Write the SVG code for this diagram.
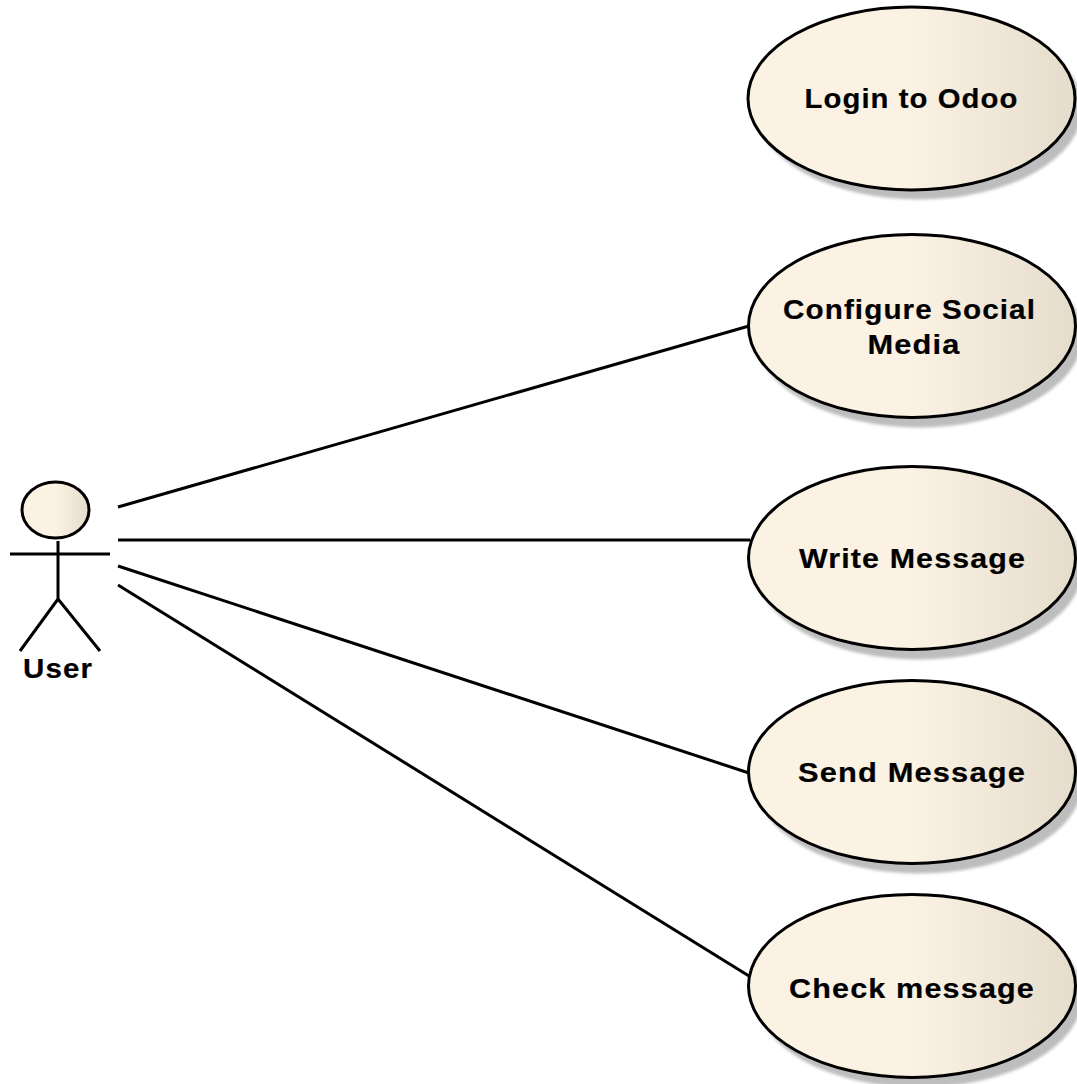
<svg xmlns="http://www.w3.org/2000/svg" width="1077" height="1084" viewBox="0 0 1077 1084">
<style>
.uc{fill:url(#g);stroke:#000;stroke-width:3}
.sh{fill:#bdbdbd;filter:url(#b)}
.t{font-family:"Liberation Sans",Arial,sans-serif;font-weight:700;font-size:27px;letter-spacing:1px;fill:#000;stroke:#000;stroke-width:.2}
.c{fill:none;stroke:#000;stroke-width:3}
</style>
<defs>
<linearGradient id="g" x1="0" x2="1" y1="0" y2="0"><stop offset="0" stop-color="#fbf2e4"/><stop offset="0.5" stop-color="#fbf2e4"/><stop offset="1" stop-color="#e6dccc"/></linearGradient>
<filter id="b" x="-5%" y="-5%" width="110%" height="110%"><feGaussianBlur stdDeviation="1.5"/></filter>
</defs>
<rect width="1077" height="1084" fill="#fff"/>
<g id="connectors" class="c">
<line x1="118" y1="507" x2="749" y2="326"/>
<line x1="118" y1="540" x2="750" y2="540"/>
<line x1="118" y1="566" x2="749" y2="773"/>
<line x1="118" y1="585" x2="749" y2="976"/>
</g>
<g id="login"><ellipse class="sh" cx="919" cy="108" rx="163.5" ry="91.5"/><ellipse class="uc" cx="911.5" cy="98.5" rx="163.5" ry="91.5"/><text class="t" x="804.5" y="107.5" textLength="214" lengthAdjust="spacingAndGlyphs">Login to Odoo</text></g>
<g id="configure"><ellipse class="sh" cx="919" cy="336" rx="163.5" ry="91.5"/><ellipse class="uc" cx="912" cy="326" rx="163.5" ry="91.5"/><text class="t" x="783" y="318.5" textLength="253" lengthAdjust="spacingAndGlyphs">Configure Social</text><text class="t" x="867.5" y="353.5" textLength="93" lengthAdjust="spacingAndGlyphs">Media</text></g>
<g id="write"><ellipse class="sh" cx="919" cy="568" rx="163.5" ry="91.5"/><ellipse class="uc" cx="912" cy="558" rx="163.5" ry="91.5"/><text class="t" x="799" y="567.5" textLength="227" lengthAdjust="spacingAndGlyphs">Write Message</text></g>
<g id="send"><ellipse class="sh" cx="919" cy="782" rx="163.5" ry="91.5"/><ellipse class="uc" cx="912" cy="772" rx="163.5" ry="91.5"/><text class="t" x="798" y="781.5" textLength="228" lengthAdjust="spacingAndGlyphs">Send Message</text></g>
<g id="check"><ellipse class="sh" cx="919" cy="996" rx="163.5" ry="91.5"/><ellipse class="uc" cx="912" cy="986" rx="163.5" ry="91.5"/><text class="t" x="789" y="997.5" textLength="246" lengthAdjust="spacingAndGlyphs">Check message</text></g>
<g id="user">
<ellipse class="uc" cx="55.5" cy="510" rx="33.5" ry="28"/>
<path class="c" d="M58 541V599M10 554H110M20 651L58 599L100 651"/>
<text class="t" x="23" y="677.5" textLength="70" lengthAdjust="spacingAndGlyphs">User</text>
</g>
</svg>
